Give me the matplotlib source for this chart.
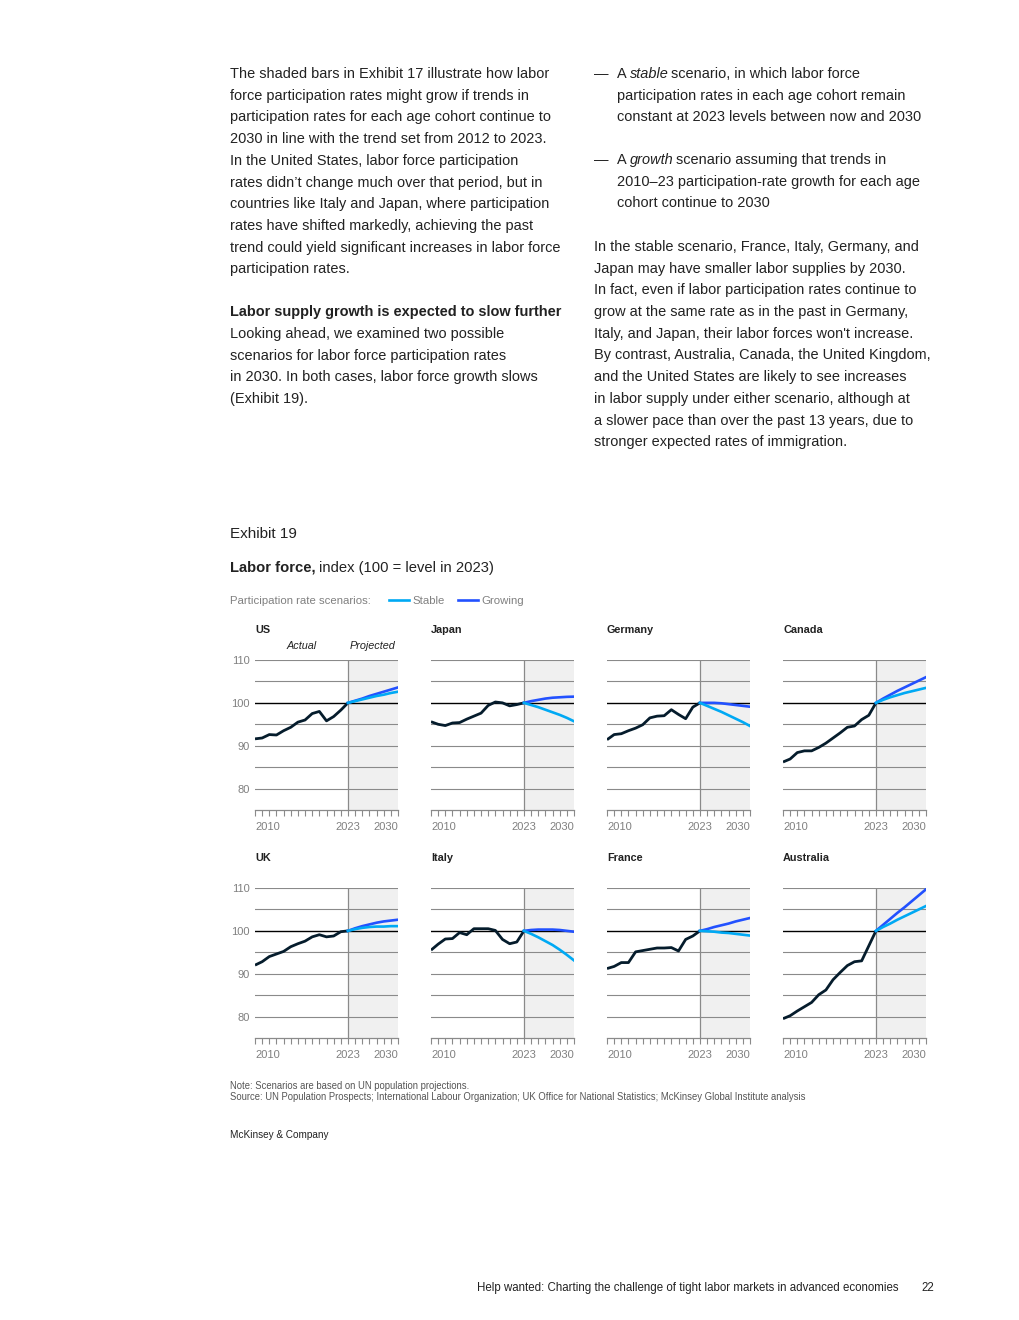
"""
Exhibit 19 - labor force index, actual 2010-23 and two participation-rate
scenarios to 2030, laid out as a report page.
"""

import matplotlib
matplotlib.use("Agg")
import matplotlib.pyplot as plt
from matplotlib import font_manager

W, H = 1020, 1320

# ── data ──────────────────────────────────────────────────────────────────
years_actual = list(range(2010, 2024))
years_proj = list(range(2023, 2031))

countries = ["US", "Japan", "Germany", "Canada", "UK", "Italy", "France", "Australia"]

us_actual = [91.6, 91.8, 92.6, 92.5, 93.5, 94.3, 95.5, 96.0, 97.5, 98.0, 95.8, 96.8, 98.3, 100.0]
us_stable = [100.0, 100.4, 100.8, 101.2, 101.6, 101.9, 102.3, 102.6]
us_growing = [100.0, 100.5, 101.0, 101.6, 102.1, 102.6, 103.1, 103.6]

japan_actual = [95.6, 95.0, 94.7, 95.3, 95.4, 96.2, 96.9, 97.6, 99.4, 100.2, 100.0, 99.3, 99.6, 100.0]
japan_stable = [100.0, 99.5, 99.0, 98.4, 97.8, 97.2, 96.5, 95.7]
japan_growing = [100.0, 100.4, 100.7, 101.0, 101.2, 101.3, 101.4, 101.45]

germany_actual = [91.4, 92.6, 92.8, 93.5, 94.1, 94.9, 96.5, 96.9, 97.0, 98.4, 97.3, 96.3, 99.0, 100.0]
germany_stable = [100.0, 99.3, 98.6, 97.9, 97.1, 96.3, 95.5, 94.6]
germany_growing = [100.0, 100.0, 100.0, 99.9, 99.7, 99.5, 99.3, 99.1]

canada_actual = [86.2, 86.9, 88.4, 88.8, 88.8, 89.6, 90.6, 91.8, 93.0, 94.3, 94.6, 96.1, 97.1, 100.0]
canada_stable = [100.0, 100.7, 101.3, 101.8, 102.3, 102.7, 103.1, 103.5]
canada_growing = [100.0, 101.0, 101.9, 102.8, 103.6, 104.4, 105.2, 106.0]

uk_actual = [92.0, 92.8, 94.0, 94.6, 95.2, 96.3, 97.0, 97.6, 98.6, 99.1, 98.6, 98.8, 99.8, 100.0]
uk_stable = [100.0, 100.4, 100.7, 100.9, 101.0, 101.0, 101.1, 101.1]
uk_growing = [100.0, 100.6, 101.1, 101.5, 101.9, 102.2, 102.4, 102.6]

italy_actual = [95.5, 96.9, 98.1, 98.2, 99.6, 99.1, 100.5, 100.5, 100.5, 100.1, 98.0, 97.0, 97.4, 100.0]
italy_stable = [100.0, 99.3, 98.5, 97.6, 96.7, 95.6, 94.4, 93.1]
italy_growing = [100.0, 100.2, 100.3, 100.3, 100.3, 100.2, 100.0, 99.8]

france_actual = [91.2, 91.7, 92.6, 92.6, 95.1, 95.4, 95.7, 96.0, 96.0, 96.1, 95.3, 98.0, 98.8, 100.0]
france_stable = [100.0, 99.9, 99.8, 99.6, 99.5, 99.3, 99.1, 98.9]
france_growing = [100.0, 100.4, 100.9, 101.3, 101.7, 102.2, 102.6, 103.0]

australia_actual = [79.5, 80.2, 81.3, 82.3, 83.3, 85.1, 86.2, 88.6, 90.3, 91.9, 92.8, 93.0, 96.5, 100.0]
australia_stable = [100.0, 100.9, 101.7, 102.6, 103.4, 104.2, 105.0, 105.8]
australia_growing = [100.0, 101.4, 102.8, 104.2, 105.5, 106.9, 108.3, 109.7]

series = {
    "US": (us_actual, us_stable, us_growing),
    "Japan": (japan_actual, japan_stable, japan_growing),
    "Germany": (germany_actual, germany_stable, germany_growing),
    "Canada": (canada_actual, canada_stable, canada_growing),
    "UK": (uk_actual, uk_stable, uk_growing),
    "Italy": (italy_actual, italy_stable, italy_growing),
    "France": (france_actual, france_stable, france_growing),
    "Australia": (australia_actual, australia_stable, australia_growing),
}

y_ticks = [80, 90, 100, 110]
x_ticks = [2010, 2023, 2030]

# ── style ─────────────────────────────────────────────────────────────────
NAVY = "#051C2C"
STABLE = "#00A9F4"
GROWING = "#2251FF"
GRID = "#8a8a8a"
LABEL = "#808080"
TEXT = "#222222"

available = {f.name for f in font_manager.fontManager.ttflist}
BODY = "Liberation Sans" if "Liberation Sans" in available else "DejaVu Sans"
NARROW = "Liberation Sans Narrow" if "Liberation Sans Narrow" in available else BODY
plt.rcParams["font.family"] = [BODY, "DejaVu Sans"]


def fx(x):
    return x / W


def fy(y):
    return 1 - y / H


fig = plt.figure(figsize=(W / 100, H / 100), dpi=100)
renderer = fig.canvas.get_renderer()


def chain(x, y, parts, size, color=TEXT, family=None):
    """Write text pieces one after another on one line (pixel coords).
    Each part is (string, style kwargs, extra px gap after it)."""
    xf = fx(x)
    for part in parts:
        s, kw = part[0], part[1]
        gap = part[2] if len(part) > 2 else 0
        t = fig.text(xf, fy(y), s, fontsize=size, color=color, va="center",
                     ha="left", family=family or BODY, **kw)
        xf += (t.get_window_extent(renderer).width + gap) / fig.bbox.width


# ── body text ─────────────────────────────────────────────────────────────
BODY_SIZE = 10.45
LINE = 21.7

left_col = [
    "The shaded bars in Exhibit 17 illustrate how labor",
    "force participation rates might grow if trends in",
    "participation rates for each age cohort continue to",
    "2030 in line with the trend set from 2012 to 2023.",
    "In the United States, labor force participation",
    "rates didn\u2019t change much over that period, but in",
    "countries like Italy and Japan, where participation",
    "rates have shifted markedly, achieving the past",
    "trend could yield significant increases in labor force",
    "participation rates.",
]
for i, s in enumerate(left_col):
    chain(230, 74 + i * LINE, [(s, {})], BODY_SIZE)

chain(230, 312, [("Labor supply growth is expected to slow further",
                  {"fontweight": "bold"})], BODY_SIZE)
left_col2 = [
    "Looking ahead, we examined two possible",
    "scenarios for labor force participation rates",
    "in 2030. In both cases, labor force growth slows",
    "(Exhibit 19).",
]
for i, s in enumerate(left_col2):
    chain(230, 334 + i * LINE, [(s, {})], BODY_SIZE)

# bullets
fig.text(fx(594), fy(74), "\u2014", fontsize=BODY_SIZE, color=TEXT, va="center")
chain(617, 74, [("A", {}, 3), ("stable", {"style": "italic"}, 3),
                ("scenario, in which labor force", {})], BODY_SIZE)
chain(617, 74 + LINE, [("participation rates in each age cohort remain", {})], BODY_SIZE)
chain(617, 74 + 2 * LINE, [("constant at 2023 levels between now and 2030", {})], BODY_SIZE)

fig.text(fx(594), fy(160), "\u2014", fontsize=BODY_SIZE, color=TEXT, va="center")
chain(617, 160, [("A", {}, 3), ("growth", {"style": "italic"}, 3),
                 ("scenario assuming that trends in", {})], BODY_SIZE)
chain(617, 160 + LINE, [("2010\u201323 participation-rate growth for each age", {})], BODY_SIZE)
chain(617, 160 + 2 * LINE, [("cohort continue to 2030", {})], BODY_SIZE)

right_col = [
    "In the stable scenario, France, Italy, Germany, and",
    "Japan may have smaller labor supplies by 2030.",
    "In fact, even if labor participation rates continue to",
    "grow at the same rate as in the past in Germany,",
    "Italy, and Japan, their labor forces won't increase.",
    "By contrast, Australia, Canada, the United Kingdom,",
    "and the United States are likely to see increases",
    "in labor supply under either scenario, although at",
    "a slower pace than over the past 13 years, due to",
    "stronger expected rates of immigration.",
]
for i, s in enumerate(right_col):
    chain(594, 247 + i * LINE, [(s, {})], BODY_SIZE)

# ── exhibit header ────────────────────────────────────────────────────────
chain(230, 534, [("Exhibit 19", {})], 11, color=TEXT)
chain(230, 568, [("Labor force,", {"fontweight": "bold"}, 3),
                 ("index (100 = level in 2023)", {})], 10.6, color=TEXT)
fig.text(fx(230), fy(601), "Participation rate scenarios:", fontsize=8.2,
         color=LABEL, va="center")

# ── small multiples ───────────────────────────────────────────────────────
col_left = [255, 431, 607, 783]
row_top = [660, 888]
ax_w, ax_h = 143, 150

legend_handles = None
for k, name in enumerate(countries):
    r, c = divmod(k, 4)
    left, top = col_left[c], row_top[r]
    ax = fig.add_axes([fx(left), fy(top + ax_h), ax_w / W, ax_h / H])
    actual, stable, growing = series[name]

    ax.axvspan(2023, 2030, color="#f0f0f0", lw=0, zorder=0)
    for yv in range(80, 111, 5):
        ax.axhline(yv, color="black" if yv == 100 else GRID,
                   lw=1.0 if yv == 100 else 0.8, zorder=1)
    ax.axvline(2023, color=GRID, lw=0.9, zorder=1)

    ax.plot(years_actual, actual, color=NAVY, lw=2.0, zorder=3,
            solid_capstyle="butt", solid_joinstyle="round")
    h_s, = ax.plot(years_proj, stable, color=STABLE, lw=1.9, zorder=4)
    h_g, = ax.plot(years_proj, growing, color=GROWING, lw=1.9, zorder=3.5)
    if legend_handles is None:
        legend_handles = [h_s, h_g]

    ax.set_xlim(2010, 2030)
    ax.set_ylim(75, 110)
    for sp in ["top", "right", "left"]:
        ax.spines[sp].set_visible(False)
    ax.spines["bottom"].set_color(GRID)
    ax.spines["bottom"].set_linewidth(0.9)

    ax.set_xticks(x_ticks)
    ax.set_xticks(list(range(2010, 2031)), minor=True)
    ax.tick_params(axis="x", which="both", direction="out", length=4.3,
                   width=0.8, color=GRID, labelsize=8, labelcolor=LABEL, pad=4)
    ax.set_xticklabels([str(t) for t in x_ticks])
    for lab, ha in zip(ax.get_xticklabels(), ["left", "center", "right"]):
        lab.set_ha(ha)

    ax.set_yticks(y_ticks)
    if c == 0:
        ax.set_yticklabels([str(t) for t in y_ticks])
        ax.tick_params(axis="y", length=0, labelsize=8, labelcolor=LABEL, pad=4)
    else:
        ax.set_yticklabels([])
        ax.tick_params(axis="y", length=0)

    ax.text(0, 1 + 30 / ax_h, name, transform=ax.transAxes, fontsize=7.8,
            fontweight="bold", color=TEXT, va="center", ha="left")
    if k == 0:
        ax.text(2016.5, 110 + 14 / 4.3, "Actual", fontsize=7.8, style="italic",
                color=TEXT, ha="center", va="center", clip_on=False)
        ax.text(2026.5, 110 + 14 / 4.3, "Projected", fontsize=7.8, style="italic",
                color=TEXT, ha="center", va="center", clip_on=False)

fig.legend(legend_handles, ["Stable", "Growing"], loc="center left",
           bbox_to_anchor=(fx(389), fy(601)), ncol=2, frameon=False,
           fontsize=8.2, labelcolor=LABEL, handlelength=1.75, handletextpad=0.35,
           columnspacing=1.1, borderpad=0, borderaxespad=0)

# ── notes & footer ────────────────────────────────────────────────────────
fig.text(fx(230), fy(1086), "Note: Scenarios are based on UN population projections.",
         fontsize=6.85, color="#555555", va="center", family=NARROW)
fig.text(fx(230), fy(1097),
         "Source: UN Population Prospects; International Labour Organization; "
         "UK Office for National Statistics; McKinsey Global Institute analysis",
         fontsize=6.85, color="#555555", va="center", family=NARROW)
fig.text(fx(230), fy(1135), "McKinsey & Company", fontsize=7.2, color=TEXT,
         va="center", family=NARROW)

fig.text(fx(899), fy(1288),
         "Help wanted: Charting the challenge of tight labor markets in advanced economies",
         fontsize=8.3, color=TEXT, va="center", ha="right")
fig.text(fx(921), fy(1288), "22", fontsize=8.3, color=TEXT, va="center", ha="left")

fig.savefig("out.png", dpi=100)
